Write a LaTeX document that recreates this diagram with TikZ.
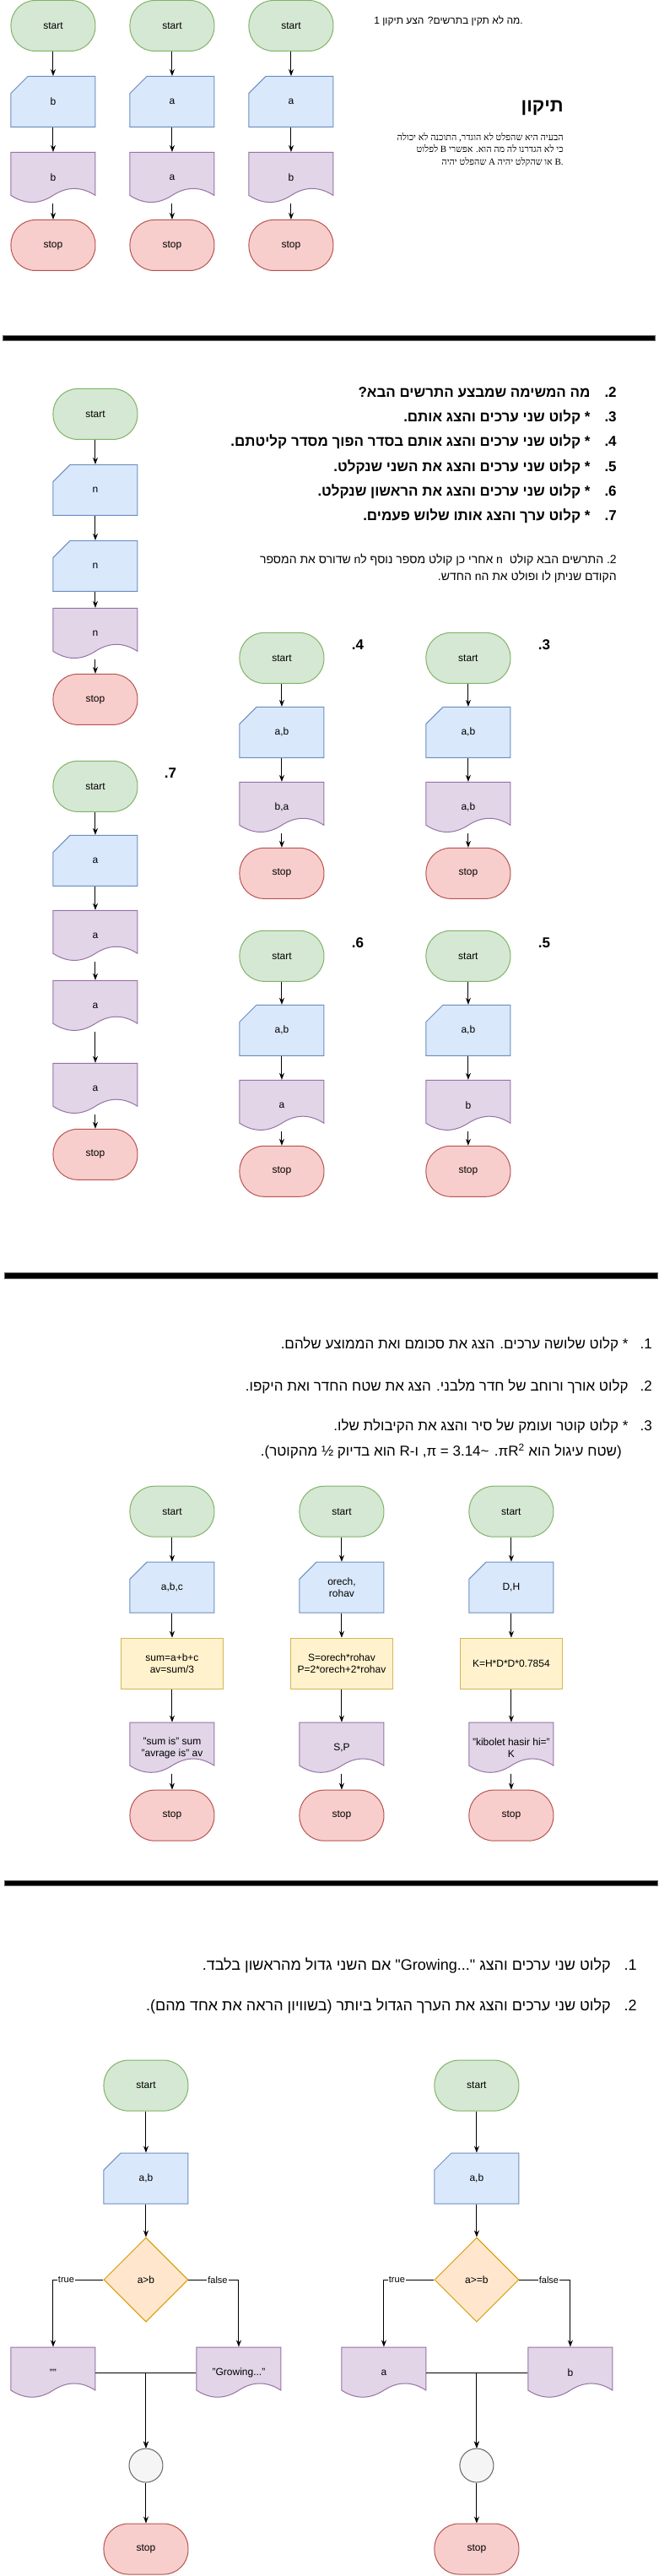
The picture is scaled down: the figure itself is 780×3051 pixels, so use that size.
\documentclass[tikz,border=0pt]{standalone}
\usepackage{fontspec}
\setmainfont{Liberation Sans}
\newfontfamily\heb[Script=Hebrew]{Liberation Sans}
\newfontfamily\hebserif[Script=Hebrew]{Liberation Serif}
\TeXXeTstate=1
\usetikzlibrary{positioning,arrows.meta,shapes.geometric}
\definecolor{cstartf}{HTML}{D5E8D4}
\definecolor{cstartd}{HTML}{82B366}
\definecolor{cstopf}{HTML}{F8CECC}
\definecolor{cstopd}{HTML}{B85450}
\definecolor{cinf}{HTML}{DAE8FC}
\definecolor{cind}{HTML}{6C8EBF}
\definecolor{coutf}{HTML}{E1D5E7}
\definecolor{coutd}{HTML}{9673A6}
\definecolor{cprocf}{HTML}{FFF2CC}
\definecolor{cprocd}{HTML}{D6B656}
\definecolor{cdecf}{HTML}{FFE6CC}
\definecolor{cdecd}{HTML}{D79B00}
\definecolor{cmrgf}{HTML}{F5F5F5}
\definecolor{cmrgd}{HTML}{666666}

\begin{document}
\begin{tikzpicture}[
  x=1pt, y=-1pt,
  font=\fontsize{12}{14}\selectfont,
  >={Stealth[length=8pt,width=6pt]},
  block/.style={minimum width=100pt, minimum height=60pt, inner sep=1pt,
                align=center, line width=1pt},
  term/.style={block, rectangle, rounded corners=29pt, draw},
  startb/.style={term, fill=cstartf, draw=cstartd},
  stopb/.style={term, fill=cstopf, draw=cstopd},
  inpb/.style={block, rectangle, minimum width=102pt, minimum height=62pt,
               outer sep=-0.5pt, fill=white,
    path picture={
      \coordinate (pp) at ([shift={(1pt,-1pt)}]path picture bounding box.north west);
      \path[fill=cinf, draw=cind, line width=1pt]
        ([shift={(0pt,-20pt)}]pp) -- ([shift={(20pt,0pt)}]pp)
        -- ([shift={(100pt,0pt)}]pp) -- ([shift={(100pt,-60pt)}]pp)
        -- ([shift={(0pt,-60pt)}]pp) -- cycle;}},
  outb/.style={block, rectangle, minimum width=102pt, minimum height=62pt,
               outer sep=-0.5pt, fill=white,
    path picture={
      \coordinate (pp) at ([shift={(1pt,-1pt)}]path picture bounding box.north west);
      \path[fill=coutf, draw=coutd, line width=1pt]
        (pp) -- ([shift={(100pt,0pt)}]pp) -- ([shift={(100pt,-51pt)}]pp)
        .. controls ([shift={(83.3pt,-40.2pt)}]pp) and ([shift={(66.7pt,-40.2pt)}]pp)
        .. ([shift={(50pt,-51pt)}]pp)
        .. controls ([shift={(33.3pt,-61.8pt)}]pp) and ([shift={(16.7pt,-61.8pt)}]pp)
        .. ([shift={(0pt,-51pt)}]pp) -- cycle;}},
  procb/.style={block, rectangle, draw=cprocd, fill=cprocf, minimum width=121pt},
  decb/.style={diamond, draw=cdecd, fill=cdecf, line width=1pt,
               minimum width=100pt, minimum height=100pt, inner sep=0pt},
  mrgb/.style={circle, draw=cmrgd, fill=cmrgf, line width=1pt, minimum size=40pt},
  arr/.style={->, line width=1pt},
  elbl/.style={font=\fontsize{11}{13}\selectfont, fill=white, inner sep=1pt},
  hdr/.style={anchor=east, inner sep=0pt, font=\heb\bfseries\fontsize{17}{20}\selectfont},
  lst/.style={anchor=east, inner sep=0pt, font=\heb\fontsize{17}{20}\selectfont},
  lstb/.style={lst, font=\heb\fontsize{18}{21}\selectfont},
  qlbl/.style={inner sep=0pt, font=\bfseries\fontsize{17}{20}\selectfont},
  sepbar/.style={fill=black, draw=cmrgd, line width=1pt}
]
\path[fill=white] (0,0) rectangle (780,3051);

% ---------- part 1: what is wrong ----------
\foreach \c/\x/\ain/\aout in {a/63/b/b, b/204/a/a, c/345/a/b}{
  \node[startb] (s1\c) at (\x,30)  {start};
  \node[inpb]   (i1\c) at (\x,120) {\ain};
  \node[outb]   (o1\c) at (\x,210) {\aout};
  \node[stopb]  (p1\c) at (\x,290) {stop};
  \draw[arr] (s1\c) -- (i1\c);
  \draw[arr] (i1\c) -- (o1\c);
  \draw[arr] (o1\c) -- (p1\c);
}

\node[anchor=east, inner sep=0pt, font=\heb\fontsize{12}{14}\selectfont]
  (q1) at (620,24) {1 \beginR מה לא תקין בתרשים? הצע תיקון\endR.};
\node[anchor=east, inner sep=0pt, font=\heb\bfseries\fontsize{22}{26}\selectfont]
  (fix) at (668,127) {\beginR תיקון\endR};
\node[anchor=east, inner sep=0pt, align=right,
      font=\hebserif\fontsize{11}{14.5}\selectfont] (fixtxt) at (668,177)
  {\beginR הבעיה היא שהפלט לא הוגדר, התוכנה לא יכולה\endR\\
   \beginR כי לא הגדרנו לה מה הוא. אפשרי B לפלוט\endR\\
   \beginR B. או שהקלט יהיה A שהפלט יהיה\endR};

\path[sepbar] (4,397) rectangle (777,403);

% ---------- part 2: what does it do ----------
\node[hdr] (h2) at (731,464) {\beginR 2\kern0pt.\hspace{17pt}מה המשימה שמבצע התרשים הבא?\endR};
\node[hdr] (h3) at (731,494) {\beginR 3\kern0pt.\hspace{17pt}* קלוט שני ערכים והצג אותם.\endR};
\node[hdr] (h4) at (731,523) {\beginR 4\kern0pt.\hspace{17pt}* קלוט שני ערכים והצג אותם בסדר הפוך מסדר קליטתם.\endR};
\node[hdr] (h5) at (731,553) {\beginR 5\kern0pt.\hspace{17pt}* קלוט שני ערכים והצג את השני שנקלט.\endR};
\node[hdr] (h6) at (731,582) {\beginR 6\kern0pt.\hspace{17pt}* קלוט שני ערכים והצג את הראשון שנקלט.\endR};
\node[hdr] (h7) at (731,611) {\beginR 7\kern0pt.\hspace{17pt}* קלוט ערך והצג אותו שלוש פעמים.\endR};

\node[anchor=east, inner sep=0pt, align=right, font=\heb\fontsize{14}{20}\selectfont]
  (p2txt) at (731,673)
  {\beginR 2\kern0pt.\ התרשים הבא קולט\ \ n אחרי כן קולט מספר נוסף לn שדורס את המספר\endR\\
   \beginR הקודם שניתן לו ופולט את הn החדש.\endR};

% chain with n
\node[startb] (ns)  at (113,490) {start};
\node[inpb]   (ni1) at (113,580) {n};
\node[inpb]   (ni2) at (113,670) {n};
\node[outb]   (no)  at (113,750) {n};
\node[stopb]  (np)  at (113,828) {stop};
\foreach \a/\b in {ns/ni1, ni1/ni2, ni2/no, no/np}
  \draw[arr] (\a) -- (\b);

% answer 7
\node[startb] (s7)  at (113,931)  {start};
\node[inpb]   (i7)  at (113,1019) {a};
\node[outb]   (o7a) at (113,1108) {a};
\node[outb]   (o7b) at (113,1191) {a};
\node[outb]   (o7c) at (113,1289) {a};
\node[stopb]  (p7)  at (113,1367) {stop};
\node[qlbl]   (l7)  at (202,915)  {.7};
\foreach \a/\b in {s7/i7, i7/o7a, o7a/o7b, o7b/o7c, o7c/p7}
  \draw[arr] (\a) -- (\b);

% answers 3 to 6
\foreach \q/\x/\y/\ain/\aout in {3/555/779/{a,b}/{a,b}, 4/334/779/{a,b}/{b,a},
                                  5/555/1132/{a,b}/b, 6/334/1132/{a,b}/a}{
  \node[startb] (s\q) at (\x,\y)     {start};
  \node[inpb]   (i\q) at (\x,\y+88)  {\ain};
  \node[outb]   (o\q) at (\x,\y+177) {\aout};
  \node[stopb]  (p\q) at (\x,\y+255) {stop};
  \node[qlbl]   (l\q) at (\x+90,\y-16) {.\q};
  \draw[arr] (s\q) -- (i\q);
  \draw[arr] (i\q) -- (o\q);
  \draw[arr] (o\q) -- (p\q);
}

\path[sepbar] (6,1507) rectangle (780,1514);

% ---------- part 3: compute ----------
\node[lst] (t1) at (773,1592) {\beginR 1\kern0pt.\hspace{14pt}* קלוט שלושה ערכים. הצג את סכומם ואת הממוצע שלהם.\endR};
\node[lst] (t2) at (773,1642) {\beginR 2\kern0pt.\hspace{14pt}קלוט אורך ורוחב של חדר מלבני. הצג את שטח החדר ואת היקפו.\endR};
\node[lst] (t3) at (773,1689) {\beginR 3\kern0pt.\hspace{14pt}* קלוט קוטר ועומק של סיר והצג את הקיבולת שלו.\endR};
\node[lst] (t3b) at (737,1719) {\beginR (שטח עיגול הוא \beginL πR\textsuperscript{2}\endL. \beginL π = \textasciitilde3.14\endL, ו-R הוא בדיוק ½ מהקוטר).\endR};

\node[startb] (s3a) at (204,1790) {start};
\node[inpb]   (i3a) at (204,1880) {a,b,c};
\node[procb]  (c3a) at (204,1970) {sum=a+b+c\\av=sum/3};
\node[outb]   (o3a) at (204,2070) {"sum is" sum\\"avrage is" av};
\node[stopb]  (p3a) at (204,2150) {stop};

\node[startb] (s3b) at (405,1790) {start};
\node[inpb]   (i3b) at (405,1880) {orech,\\rohav};
\node[procb]  (c3b) at (405,1970) {S=orech*rohav\\P=2*orech+2*rohav};
\node[outb]   (o3b) at (405,2070) {S,P};
\node[stopb]  (p3b) at (405,2150) {stop};

\node[startb] (s3c) at (606,1790) {start};
\node[inpb]   (i3c) at (606,1880) {D,H};
\node[procb]  (c3c) at (606,1970) {K=H*D*D*0.7854};
\node[outb]   (o3c) at (606,2070) {"kibolet hasir hi="\\K};
\node[stopb]  (p3c) at (606,2150) {stop};

\foreach \c in {a,b,c}{
  \draw[arr] (s3\c) -- (i3\c);
  \draw[arr] (i3\c) -- (c3\c);
  \draw[arr] (c3\c) -- (o3\c);
  \draw[arr] (o3\c) -- (p3\c);
}

\path[sepbar] (6,2227) rectangle (780,2233);

% ---------- part 4: conditions ----------
\node[lstb] (u1) at (755,2328) {\beginR 1\kern0pt.\hspace{16pt}קלוט שני ערכים והצג "Growing..." אם השני גדול מהראשון בלבד.\endR};
\node[lstb] (u2) at (755,2376) {\beginR 2\kern0pt.\hspace{16pt}קלוט שני ערכים והצג את הערך הגדול ביותר (בשוויון הראה את אחד מהם).\endR};

\node[startb] (s4a)  at (173,2470) {start};
\node[inpb]   (i4a)  at (173,2580) {a,b};
\node[decb]   (d4a)  at (173,2700) {a>b};
\node[outb]   (o4a1) at (63,2810)  {""};
\node[outb]   (o4a2) at (283,2810) {"Growing..."};
\node[mrgb]   (m4a)  at (173,2920) {};
\node[stopb]  (p4a)  at (173,3019) {stop};

\node[startb] (s4b)  at (565,2470) {start};
\node[inpb]   (i4b)  at (565,2580) {a,b};
\node[decb]   (d4b)  at (565,2700) {a>=b};
\node[outb]   (o4b1) at (455,2810) {a};
\node[outb]   (o4b2) at (676,2810) {b};
\node[mrgb]   (m4b)  at (565,2920) {};
\node[stopb]  (p4b)  at (565,3019) {stop};

\foreach \c in {a,b}{
  \draw[arr] (s4\c) -- (i4\c);
  \draw[arr] (i4\c) -- (d4\c);
  \draw[arr] (d4\c.west) -| node[elbl, pos=.37] {true} (o4\c1.north);
  \draw[arr] (d4\c.east) -| node[elbl, pos=.29] {false} (o4\c2.north);
  \draw[arr] (o4\c1.east) -| (m4\c.north);
  \draw[arr] (o4\c2.west) -| (m4\c.north);
  \draw[arr] (m4\c) -- (p4\c);
}

\end{tikzpicture}
\end{document}
